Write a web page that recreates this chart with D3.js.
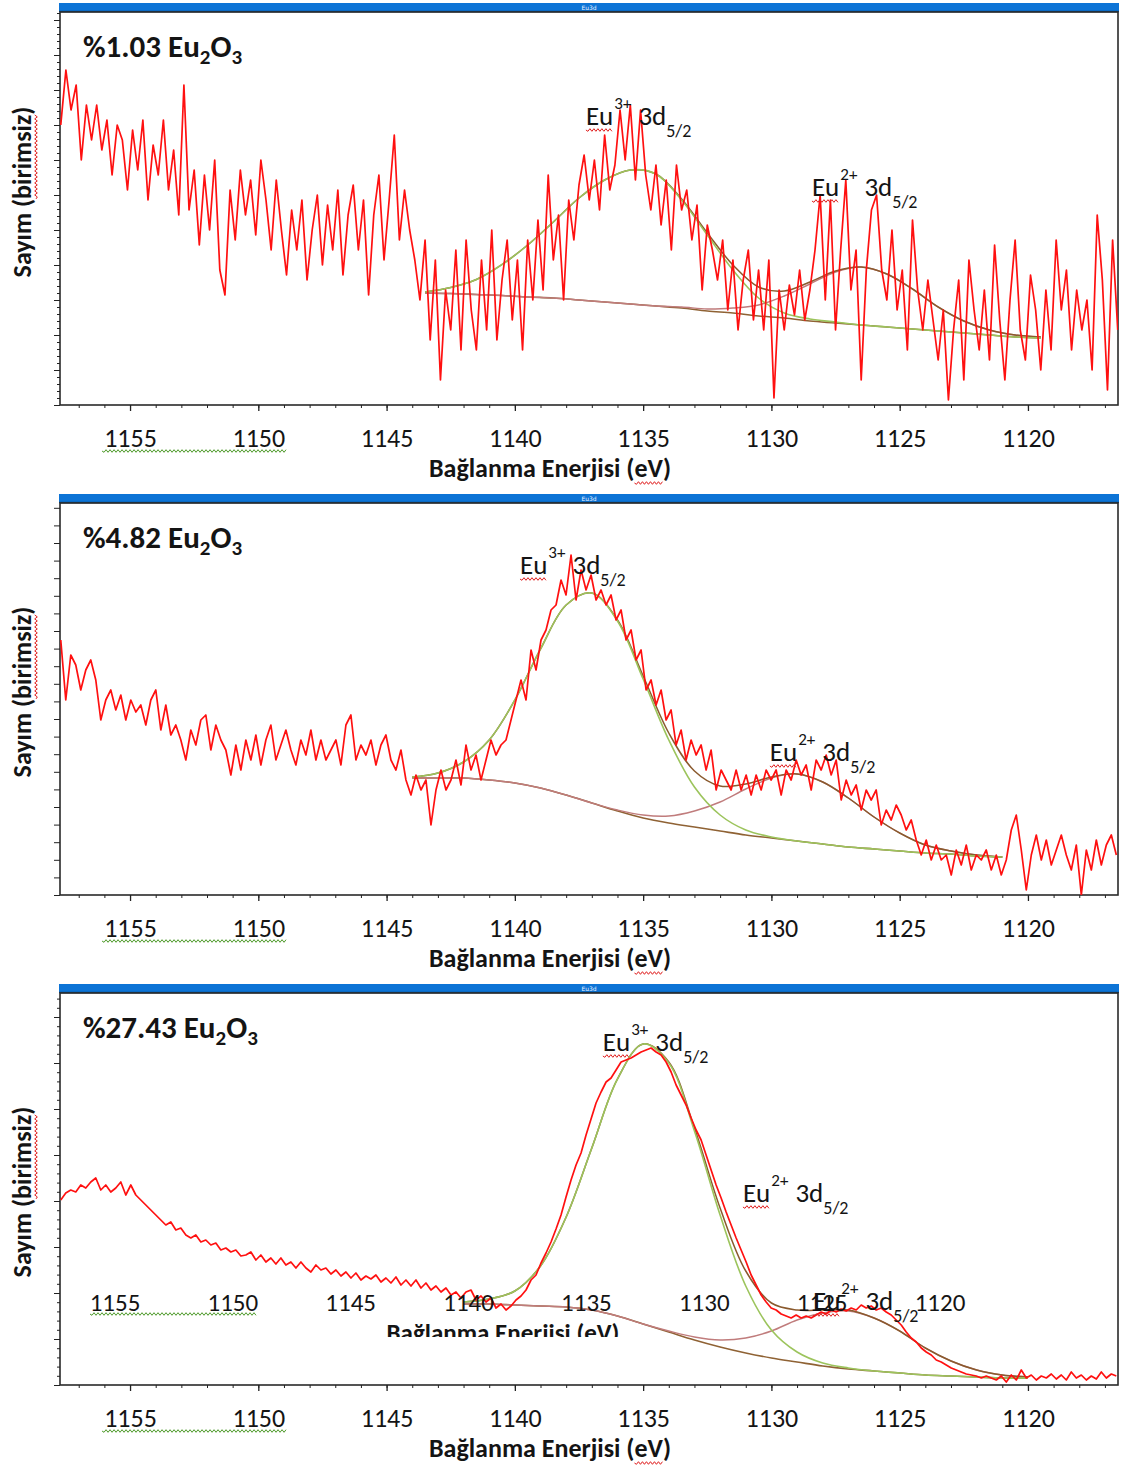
<!DOCTYPE html>
<html><head><meta charset="utf-8">
<script src="https://cdnjs.cloudflare.com/ajax/libs/d3/7.8.5/d3.min.js"></script>
<style>
body{margin:0;background:#fff}
svg{display:block}
text{font-family:Carlito, Lato, sans-serif;fill:#141414}
</style>
</head><body>
<svg id="c" width="1131" height="1468"></svg>
<script>
// ---------------- data ----------------
const scanStart = 1157.7;              // eV, first channel of each scan
const scanStep = [0.2, 0.195, 0.195];  // eV per channel

const counts1 = [280,335,295,320,245,300,265,300,255,285,
230,280,265,215,275,235,285,205,260,230,
285,215,255,190,320,195,235,160,230,175,
245,135,110,215,165,235,190,225,170,245,
205,155,225,175,130,195,155,205,125,175,
210,140,200,155,215,130,190,220,155,205,
110,190,230,145,205,270,165,215,175,145,
105,165,65,145,25,115,75,155,55,165,
95,55,145,75,175,65,125,165,85,145,
55,165,105,185,115,230,145,190,105,205,
165,220,250,205,245,195,270,215,240,295,
245,300,225,295,230,195,240,180,225,155,
240,195,215,165,200,115,180,155,125,165,
95,145,75,125,155,85,135,75,145,7,
115,75,120,90,135,85,115,155,210,105,
205,75,155,225,115,155,25,135,195,210,
135,105,175,95,135,55,185,115,75,125,
85,45,95,5,75,125,25,145,95,55,
115,45,160,85,25,105,165,75,45,130,
95,35,115,55,165,95,135,55,115,75,
105,35,190,125,15,165,75];

const counts2 = [255,195,240,230,205,225,235,215,175,195,
205,185,200,175,195,183,190,170,195,205,
165,190,160,170,155,135,165,150,175,180,
145,170,155,145,120,150,125,155,135,160,
130,155,170,135,150,165,145,130,155,140,
165,135,155,135,145,155,130,170,180,135,
150,140,155,130,150,160,135,125,145,115,
100,120,105,115,70,105,125,105,115,135,
110,150,125,140,115,135,155,140,150,155,
175,195,215,195,245,225,255,265,285,290,
315,300,340,295,325,305,320,295,305,290,
300,275,285,255,265,235,245,205,215,190,
205,175,185,150,165,135,155,140,150,125,
145,105,125,115,105,125,105,120,100,120,
105,125,115,125,100,125,115,135,120,130,
105,135,125,140,120,135,95,115,100,110,
85,105,95,105,70,85,75,90,80,65,
75,55,40,55,35,50,35,40,20,45,
30,50,25,40,35,45,25,40,20,35,
65,80,45,5,40,60,35,55,30,45,
60,40,25,50,0,45,25,55,30,50,
60,40];

const counts3 = [185,192,195,193,200,197,203,207,195,200,
193,197,203,190,200,190,185,180,175,170,
165,160,163,155,157,150,147,150,143,145,
140,142,135,137,133,135,129,130,133,125,
130,123,127,121,127,120,123,117,123,117,
113,120,115,117,111,115,109,113,107,112,
105,109,106,110,103,107,102,108,100,105,
99,105,97,102,95,99,93,97,90,93,
87,93,95,85,89,83,87,77,81,75,
79,85,89,95,105,110,122,132,143,156,
170,188,205,220,232,250,266,282,293,303,
307,315,323,325,327,330,333,335,337,333,
330,323,313,300,290,280,267,255,245,230,
215,200,187,173,160,147,135,123,110,100,
90,83,77,75,71,69,67,70,67,69,
67,70,73,71,75,73,76,74,77,75,
80,77,79,75,77,73,70,65,60,53,
47,43,37,33,30,25,23,20,17,15,
13,11,10,9,7,9,7,5,9,3,
10,5,15,7,10,5,9,7,11,6,
10,5,13,7,10,5,9,6,13,7,
11,9];

// fitted components (background, Eu3+ 3d5/2 and Eu2+ 3d5/2 peak heights above background)
const fitEnergy1 = [1143.5,1142.5,1141.5,1140.5,1139.5,1138.5,1137.5,1136.5,1135.5,1134.5,1133.5,1132.5,1131.5,1130.5,1129.5,1128.5,1127.5,1126.5,1125.5,1124.5,1123.5,1122.5,1121.5,1120.5,1119.5];
const background1 = [112,111.5,110.5,109.5,108,107,105,103,101,99,97,94,92,89,87,84,82,80,78,76,74,72,70,68,67];
const eu3Peak1 = [1,6,15,31,52,76,102,122,134,132,108,76,43,18,5,2,1,0,0,0,0,0,0,0,0];
const eu2Peak1 = [0,0,0,0,0,0,0,0,0,0,1,2,5,11,22,37,51,58,53,40,24,12,5,2,1];

const fitEnergy2 = [1144,1143,1142,1141,1140,1139,1138,1137,1136,1135,1134,1133,1132,1131,1130,1129,1128,1127,1126,1125,1124,1123,1122,1121];
const background2 = [117,117,117,115,112,107,100,92,84,77,72,68,64,60,57,54,51,48,46,44,42,41,39,38];
const eu3Peak2 = [1,5,16,40,83,139,190,210,190,139,83,40,16,5,1,0,0,0,0,0,0,0,0,0];
const eu2Peak2 = [0,0,0,0,0,0,0,0,1,3,7,16,29,46,60,67,62,49,32,18,8,3,1,0];

const fitEnergy3 = [1142,1141,1140,1139,1138,1137,1136,1135,1134,1133,1132,1131,1130,1129,1128,1127,1126,1125,1124,1123,1122,1121,1120];
const background3 = [81,81,80,79,78,75,69,61,53,45,38,32,27,23,19,16,14,12,10,9,8,7,7];
const eu3Peak3 = [2,5,14,40,90,162,237,280,269,209,132,67,28,10,3,1,0,0,0,0,0,0,0];
const eu2Peak3 = [0,0,0,0,0,0,0,0,1,3,7,15,27,42,53,58,53,42,27,15,7,3,1];

const sampleLabels = ["%1.03", "%4.82", "%27.43"];
const tickLabels = [1155,1150,1145,1140,1135,1130,1125,1120];
const xTitle = "Bağlanma Enerjisi (eV)";
const yTitle = "Sayım (birimsiz)";
// peak labels: [panel, energy, counts, charge]
const peakLabels = [
  [0,1137.23,280,"3+"],[0,1128.42,209,"2+"],
  [1,1139.80,321,"3+"],[1,1130.06,134,"2+"],
  [2,1136.57,334,"3+"],[2,1131.11,183,"2+"],[2,1128.38,75,"2+"]
];

const allCounts = [counts1, counts2, counts3];
const fitE = [fitEnergy1, fitEnergy2, fitEnergy3];
const fitBg = [background1, background2, background3];
const fitEu3 = [eu3Peak1, eu3Peak2, eu3Peak3];
const fitEu2 = [eu2Peak1, eu2Peak2, eu2Peak3];

// ---------------- layout ----------------
const left = 60, right = 1118;
const panelTop = [12, 503, 993];
const panelBottom = [405, 895, 1385];
const yTitleCenter = [192, 692, 1192];
const yMinorStep = [7, 17.6, 9.2];
const yMajorEvery = [5, 1, 5];

const svg = d3.select('#c');
const x = d3.scaleLinear().domain([1157.73, 1116.49]).range([left, right]);

function wavy(g, x1, x2, y, color) {
  let d = `M${x1},${y}`;
  let k = 1;
  for (let xx = x1 + 2; xx <= x2; xx += 2, k++) d += `L${xx},${y + (k % 2 ? 1.3 : -1.3)}`;
  g.append('path').attr('d', d).attr('fill', 'none').attr('stroke', color).attr('stroke-width', 1);
}

const colors = {
  data: '#ff1010', bg: '#8f6234', env: '#8a5a2e', eu3: '#9cc45c', eu2: '#c07c7c'
};

for (let p = 0; p < 3; p++) {
  const top = panelTop[p], bottom = panelBottom[p];
  const y = d3.scaleLinear().domain([0, bottom - top]).range([bottom, top]);
  const g = svg.append('g');

  const cid = 'clip' + p;
  svg.append('defs').append('clipPath').attr('id', cid)
    .append('rect').attr('x', left).attr('y', top).attr('width', right - left).attr('height', bottom - top);

  // blue header bar
  g.append('rect').attr('x', left - 1).attr('y', top - 9).attr('width', right - left + 2).attr('height', 9).attr('fill', '#0d74d6');
  g.append('line').attr('x1', left - 1).attr('x2', right + 1).attr('y1', top - 0.5).attr('y2', top - 0.5).attr('stroke', '#0a4d8c').attr('stroke-width', 1.5);
  g.append('text').attr('x', 589).attr('y', top - 2.5).attr('text-anchor', 'middle')
    .style('font-size', '6px').style('fill', '#e8f2ff').style('font-family', 'DejaVu Sans').text('Eu3d');

  // frame
  g.append('rect').attr('x', left).attr('y', top).attr('width', right - left).attr('height', bottom - top)
    .attr('fill', 'none').attr('stroke', '#2a2a2a').attr('stroke-width', 1.6);

  // x axis
  const minorTicks = d3.range(1157, 1116, -1);
  g.append('g').attr('transform', `translate(0,${bottom})`)
    .call(d3.axisBottom(x).tickValues(minorTicks).tickSize(3).tickFormat(''))
    .call(a => { a.select('.domain').remove(); a.selectAll('line').attr('stroke', '#222'); });
  const xa = g.append('g').attr('transform', `translate(0,${bottom})`)
    .call(d3.axisBottom(x).tickValues(tickLabels).tickSize(6).tickPadding(18).tickFormat(d => d));
  xa.select('.domain').remove();
  xa.selectAll('line').attr('stroke', '#222').attr('stroke-width', 1.3);
  xa.selectAll('text').style('font-size', '26px').style('fill', '#141414').style('font-family', 'Carlito, Lato, sans-serif');
  wavy(g, x(1155) - 28, x(1150) + 28, bottom + 46, '#4e9a2a');

  // y axis ticks
  const yt = d3.range(0, bottom - top, yMinorStep[p]);
  g.append('g').attr('transform', `translate(${left},0)`)
    .call(d3.axisLeft(y).tickValues(yt).tickSize(3).tickFormat(''))
    .call(a => {
      a.select('.domain').remove();
      a.selectAll('line').attr('stroke', '#222')
        .attr('x2', (d, i) => (i % yMajorEvery[p] === 0 ? -6 : -3));
    });

  // x title
  const xt = g.append('text').attr('x', 550).attr('y', bottom + 72).attr('text-anchor', 'middle')
    .style('font-size', '26px').style('font-weight', 'bold').text(xTitle);
  {
    const n = xTitle.indexOf('eV');
    const s = xt.node().getStartPositionOfChar(n).x, e = xt.node().getEndPositionOfChar(n + 1).x;
    wavy(g, s, e, bottom + 78, '#e02020');
  }

  // y title
  const yg = g.append('g').attr('transform', `translate(31,${yTitleCenter[p]}) rotate(-90)`);
  const ytx = yg.append('text').attr('x', 0).attr('y', 0).attr('text-anchor', 'middle')
    .style('font-size', '26px').style('font-weight', 'bold').text(yTitle);
  {
    const n = yTitle.indexOf('birimsiz');
    const s = ytx.node().getStartPositionOfChar(n).x, e = ytx.node().getEndPositionOfChar(n + 7).x;
    wavy(yg, s, e, 5, '#e02020');
  }

  // sample title
  const tt = g.append('text').attr('x', 83).attr('y', top + 45).style('font-size', '31px').style('font-weight', 'bold');
  tt.append('tspan').text(sampleLabels[p] + ' Eu');
  tt.append('tspan').attr('dy', 7).style('font-size', '21px').text('2');
  tt.append('tspan').attr('dy', -7).text('O');
  tt.append('tspan').attr('dy', 7).style('font-size', '21px').text('3');

  // curves
  const plot = g.append('g').attr('clip-path', `url(#${cid})`);
  const lineData = d3.line().x(d => x(d[0])).y(d => y(d[1]));
  const lineFit = d3.line().x(d => x(d[0])).y(d => y(d[1])).curve(d3.curveCatmullRom.alpha(0.5));
  const E = fitE[p], B = fitBg[p], G1 = fitEu3[p], G2 = fitEu2[p];
  const bgPts = E.map((e, i) => [e, B[i]]);
  const eu2Pts = E.map((e, i) => [e, B[i] + G2[i]]);
  const eu3Pts = E.map((e, i) => [e, B[i] + G1[i]]);
  const envPts = E.map((e, i) => [e, B[i] + G1[i] + G2[i]]);
  plot.append('path').attr('d', lineFit(bgPts)).attr('fill', 'none').attr('stroke', colors.bg).attr('stroke-width', 1.6);
  plot.append('path').attr('d', lineFit(eu2Pts)).attr('fill', 'none').attr('stroke', colors.eu2).attr('stroke-width', 1.4);
  plot.append('path').attr('d', lineFit(envPts)).attr('fill', 'none').attr('stroke', colors.env).attr('stroke-width', 1.5);
  plot.append('path').attr('d', lineFit(eu3Pts)).attr('fill', 'none').attr('stroke', colors.eu3).attr('stroke-width', 1.6);

  const dataPts = allCounts[p].map((c, i) => [scanStart - i * scanStep[p], c]);
  plot.append('path').attr('d', lineData(dataPts)).attr('fill', 'none').attr('stroke', colors.data)
    .attr('stroke-width', 1.7).attr('stroke-linejoin', 'round');

  // inner pasted axis in panel 3
  if (p === 2) {
    const inner = d3.scaleLinear().domain([1155, 1120]).range([115, 940]);
    const ig = g.append('g');
    tickLabels.forEach(v => {
      ig.append('text').attr('x', inner(v)).attr('y', 1311).attr('text-anchor', 'middle')
        .style('font-size', '25px').text(v);
    });
    wavy(ig, inner(1155) - 25, inner(1150) + 25, 1314, '#4e9a2a');
    svg.append('defs').append('clipPath').attr('id', 'innerClip')
      .append('rect').attr('x', 300).attr('y', 1312).attr('width', 400).attr('height', 25);
    ig.append('text').attr('x', 503).attr('y', 1341).attr('text-anchor', 'middle')
      .attr('clip-path', 'url(#innerClip)')
      .style('font-size', '25px').style('font-weight', 'bold').text(xTitle);
  }

  // peak labels
  peakLabels.filter(l => l[0] === p).forEach(l => {
    const lx = x(l[1]), ly = y(l[2]);
    const t = g.append('text').attr('x', lx).attr('y', ly).style('font-size', '27px');
    t.append('tspan').text('Eu');
    t.append('tspan').attr('dy', -16).attr('dx', 1).style('font-size', '17px').text(l[3]);
    t.append('tspan').attr('dy', 16).attr('dx', 7).text('3d');
    t.append('tspan').attr('dy', 12).style('font-size', '18px').text('5/2');
    const e = t.node().getEndPositionOfChar(1).x;
    wavy(g, lx, e, ly + 5, '#e02020');
  });
}
</script>
</body></html>
